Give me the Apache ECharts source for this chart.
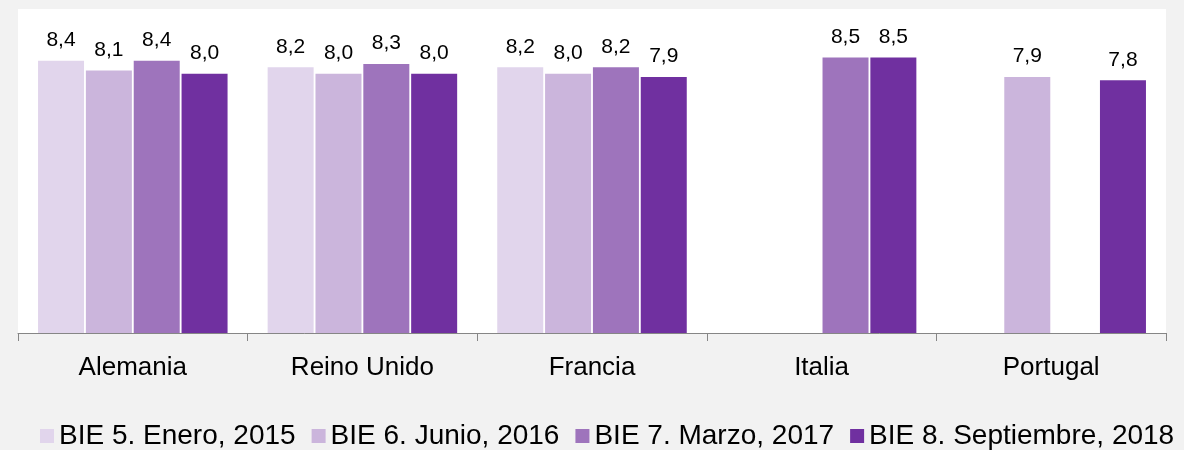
<!DOCTYPE html>
<html>
<head>
<meta charset="utf-8">
<script src="https://cdn.jsdelivr.net/npm/echarts@6/dist/echarts.min.js"></script>
<style>
  html, body { margin: 0; padding: 0; background: #f2f2f2; }
  #chart { width: 1184px; height: 450px; }
</style>
</head>
<body>
<div id="chart"></div>
<script>
// paises
var categories = ['Alemania', 'Reino Unido', 'Francia', 'Italia', 'Portugal'];
var seriesNames = ['BIE 5. Enero, 2015', 'BIE 6. Junio, 2016', 'BIE 7. Marzo, 2017', 'BIE 8. Septiembre, 2018'];
// valores por edicion (null = sin dato)
var bie5 = [8.4, 8.2, 8.2, null, null];
var bie6 = [8.1, 8.0, 8.0, null, 7.9];
var bie7 = [8.4, 8.3, 8.2, 8.5, null];
var bie8 = [8.0, 8.0, 7.9, 8.5, 7.8];
var colors = ['#e1d5ec', '#cbb5dc', '#9e74bc', '#7030a0'];

var font = "'Liberation Sans', Arial, sans-serif";
var chart = echarts.init(document.getElementById('chart'));

function makeSeries(name, data) {
    return {
        name: name,
        type: 'bar',
        data: data,
        barWidth: 46,
        barGap: '4%',
        label: {
            show: true,
            position: 'top',
            distance: 10,
            color: '#000',
            fontSize: 21,
            fontFamily: font,
            formatter: function (p) {
                return p.value == null ? '' : p.value.toFixed(1).replace('.', ',');
            }
        }
    };
}

chart.setOption({
    backgroundColor: '#f2f2f2',
    color: colors,
    animation: false,
    grid: {
        left: 18, right: 18, top: 9, bottom: 117,
        show: true, backgroundColor: '#fff', borderWidth: 0
    },
    legend: {
        left: 35,
        top: 417,
        itemWidth: 14,
        itemHeight: 14,
        itemGap: 16,
        icon: 'rect',
        textStyle: { fontSize: 28, color: '#000', fontFamily: font },
        data: seriesNames
    },
    xAxis: {
        type: 'category',
        data: categories,
        axisLine: { lineStyle: { color: '#868686' } },
        axisTick: { show: true, length: 8, lineStyle: { color: '#868686' } },
        axisLabel: { color: '#000', fontSize: 26, fontFamily: font, margin: 22 }
    },
    yAxis: {
        type: 'value',
        min: 0,
        max: 10,
        show: false,
        splitLine: { show: false }
    },
    series: [
        makeSeries(seriesNames[0], bie5),
        makeSeries(seriesNames[1], bie6),
        makeSeries(seriesNames[2], bie7),
        makeSeries(seriesNames[3], bie8)
    ]
});
</script>
</body>
</html>
